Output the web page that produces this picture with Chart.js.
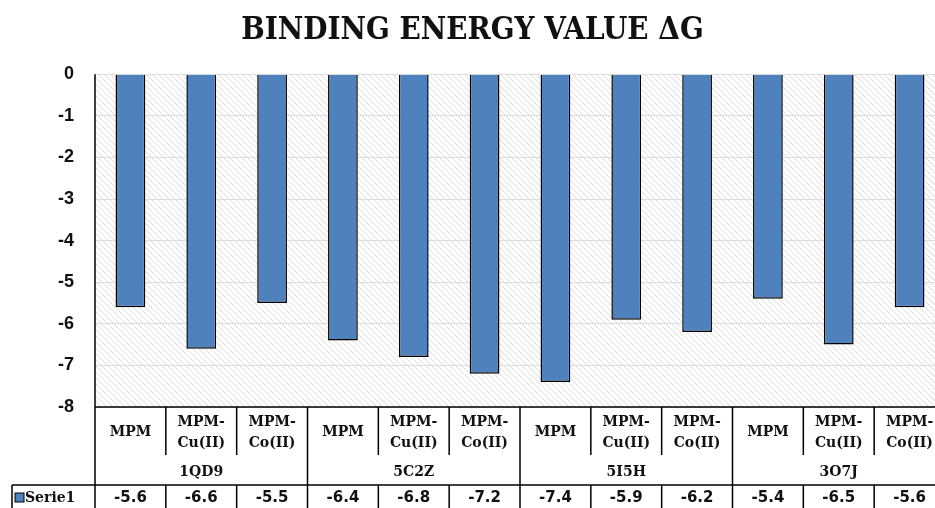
<!DOCTYPE html>
<html lang="en">
<head>
    <meta charset="UTF-8">
    <title>Binding energy</title>
    <style>
        body {margin: 0; overflow: hidden; background: #fff;}
        #wrap {width: 945px; height: 508px;}
    </style>
    <script src="https://cdn.jsdelivr.net/npm/chart.js@4.4.0/dist/chart.umd.min.js"></script>
</head>
<body>
    <div id="wrap">
        <canvas id="energyChart" width="945" height="508"></canvas>
    </div>

    <script>
        // values
        const proteins = ['1QD9', '5C2Z', '5I5H', '3O7J'];
        const ligands = ['MPM', 'MPM-Cu(II)', 'MPM-Co(II)'];
        const serie1 = [-5.6, -6.6, -5.5, -6.4, -6.8, -7.2, -7.4, -5.9, -6.2, -5.4, -6.5, -5.6];
        const seriesName = 'Serie1';
        const yMin = -8, yMax = 0;

        // one category per protein/ligand pair
        const labels = [];
        proteins.forEach(p => ligands.forEach(l => labels.push(p + ' ' + l)));

        // diagonal hatch for the plot background
        function hatch() {
            const c = document.createElement('canvas');
            c.width = 6; c.height = 6;
            const g = c.getContext('2d');
            g.strokeStyle = '#dcdcdc';
            g.lineWidth = 1;
            g.beginPath();
            g.moveTo(-1, -1); g.lineTo(7, 7);
            g.moveTo(-1, 5); g.lineTo(1, 7);
            g.moveTo(5, -1); g.lineTo(7, 1);
            g.stroke();
            return g.createPattern(c, 'repeat');
        }

        const background = {
            id: 'background',
            beforeDraw(chart) {
                const a = chart.chartArea, ctx = chart.ctx;
                ctx.save();
                ctx.fillStyle = hatch();
                ctx.fillRect(a.left, a.top, a.right - a.left, a.bottom - a.top);
                ctx.restore();
            }
        };

        // data table under the plot, columns follow the x scale
        const labelFont = 'bold 14px "DejaVu Serif"';
        const valueFont = 'bold 15px "DejaVu Sans"';
        const dataTable = {
            id: 'dataTable',
            afterDraw(chart) {
                const ctx = chart.ctx, a = chart.chartArea, x = chart.scales.x;
                const w = x.width / labels.length;
                const top = a.bottom, mid = top + 48, row = top + 78, end = chart.height;
                ctx.save();
                ctx.strokeStyle = '#000';
                ctx.lineWidth = 1.5;
                ctx.beginPath();
                ctx.moveTo(a.left, top); ctx.lineTo(chart.width, top);
                ctx.moveTo(12, row); ctx.lineTo(chart.width, row);
                ctx.moveTo(12, row); ctx.lineTo(12, end);
                ctx.moveTo(a.left, a.top); ctx.lineTo(a.left, end);
                for (let i = 1; i < labels.length; i++) {
                    const xp = x.getPixelForValue(i) - w / 2;
                    ctx.moveTo(xp, top);
                    ctx.lineTo(xp, i % ligands.length === 0 ? end : mid);
                    ctx.moveTo(xp, row); ctx.lineTo(xp, end);
                }
                ctx.stroke();

                ctx.fillStyle = '#111';
                ctx.textAlign = 'center';
                ctx.textBaseline = 'middle';
                labels.forEach((lab, i) => {
                    const xp = x.getPixelForValue(i);
                    const name = ligands[i % ligands.length];
                    const cut = name.indexOf('-');
                    ctx.font = labelFont;
                    if (cut < 0) {
                        ctx.fillText(name, xp, top + 25);
                    } else {
                        ctx.fillText(name.slice(0, cut + 1), xp, top + 15);
                        ctx.fillText(name.slice(cut + 1), xp, top + 36);
                    }
                    ctx.font = valueFont;
                    ctx.fillText(serie1[i].toFixed(1), xp, row + 13);
                });
                ctx.font = labelFont;
                proteins.forEach((p, j) => {
                    const xp = x.getPixelForValue(j * ligands.length + 1);
                    ctx.fillText(p, xp, top + 65);
                });

                // legend key in the table
                ctx.fillStyle = '#4f81bd';
                ctx.fillRect(15, row + 8, 9, 9);
                ctx.lineWidth = 1;
                ctx.strokeRect(15, row + 8, 9, 9);
                ctx.fillStyle = '#111';
                ctx.textAlign = 'left';
                ctx.font = labelFont;
                ctx.fillText(seriesName, 25, row + 13);
                ctx.restore();
            }
        };

        const chart = new Chart(document.getElementById('energyChart'), {
            type: 'bar',
            data: {
                labels: labels,
                datasets: [{
                    label: seriesName,
                    data: serie1,
                    backgroundColor: '#4f81bd',
                    borderColor: '#000',
                    borderWidth: 1.5,
                    barPercentage: 0.42,
                    categoryPercentage: 1
                }]
            },
            options: {
                responsive: false,
                animation: false,
                layout: {padding: {left: 0, right: 0, bottom: 101}},
                plugins: {
                    legend: {display: false},
                    tooltip: {enabled: false},
                    title: {
                        display: true,
                        text: 'BINDING ENERGY VALUE \u0394G',
                        color: '#111',
                        font: {family: '"DejaVu Serif Condensed"', size: 31, weight: 'bold'},
                        padding: {top: 12, bottom: 25}
                    }
                },
                scales: {
                    x: {display: false},
                    y: {
                        min: yMin,
                        max: yMax,
                        afterFit(s) { s.width = 95; },
                        border: {display: false},
                        grid: {color: '#dedede', drawTicks: false},
                        ticks: {
                            stepSize: 1,
                            color: '#111',
                            padding: 21,
                            font: {family: '"Liberation Sans"', size: 18, weight: 'bold'}
                        }
                    }
                }
            },
            plugins: [background, dataTable]
        });
    </script>
</body>
</html>
